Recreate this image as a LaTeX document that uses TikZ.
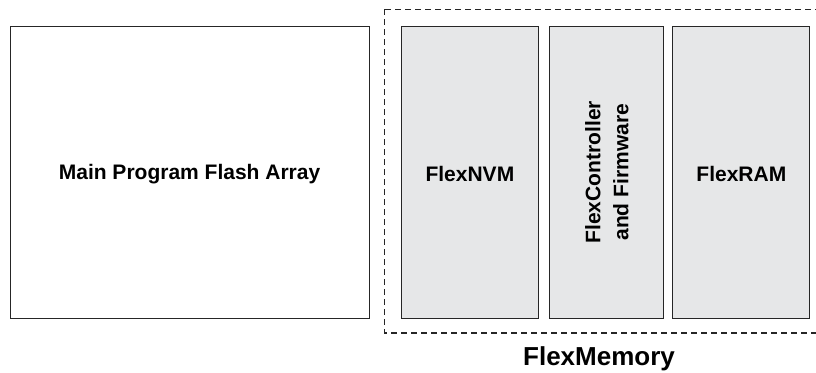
\documentclass[tikz,border=0pt]{standalone}
\usepackage{fontspec}
\setmainfont{Liberation Sans}
\usetikzlibrary{positioning}
\definecolor{boxgray}{HTML}{E6E7E8}
\begin{document}
\begin{tikzpicture}[x=1pt,y=-1pt,
  block/.style={draw=black!85,line width=1.1pt,inner sep=0pt,anchor=north west},
  sub/.style={block,fill=boxgray},
  lbl/.style={font=\bfseries\fontsize{21}{28}\selectfont,align=center}]
\useasboundingbox (0,0) rectangle (816,372);
\draw[black!85,line width=1.3pt,dash pattern=on 6pt off 4pt] (384.7,9.3) rectangle (819,333) ;
\node[block,minimum width=359pt,minimum height=292.5pt] (main) at (9.5,25.5) {};
\node[lbl] at ([yshift=-2pt]main.center) {Main Program Flash Array};
\node[sub,minimum width=136.7pt,minimum height=292pt] (nvm) at (401,25.7) {};
\node[lbl] at ([yshift=-2pt]nvm.center) {FlexNVM};
\node[sub,minimum width=114pt,minimum height=292pt] (ctrl) at (549.3,25.7) {};
\node[lbl,rotate=90] at (ctrl.center) {FlexController\\and Firmware};
\node[sub,minimum width=137pt,minimum height=292pt] (ram) at (672.3,25.7) {};
\node[lbl] at ([yshift=-2pt]ram.center) {FlexRAM};
\node[font=\bfseries\fontsize{26}{28}\selectfont,inner sep=0pt,anchor=south] (fm) at (599,371.5) {FlexMemory};
\end{tikzpicture}
\end{document}
